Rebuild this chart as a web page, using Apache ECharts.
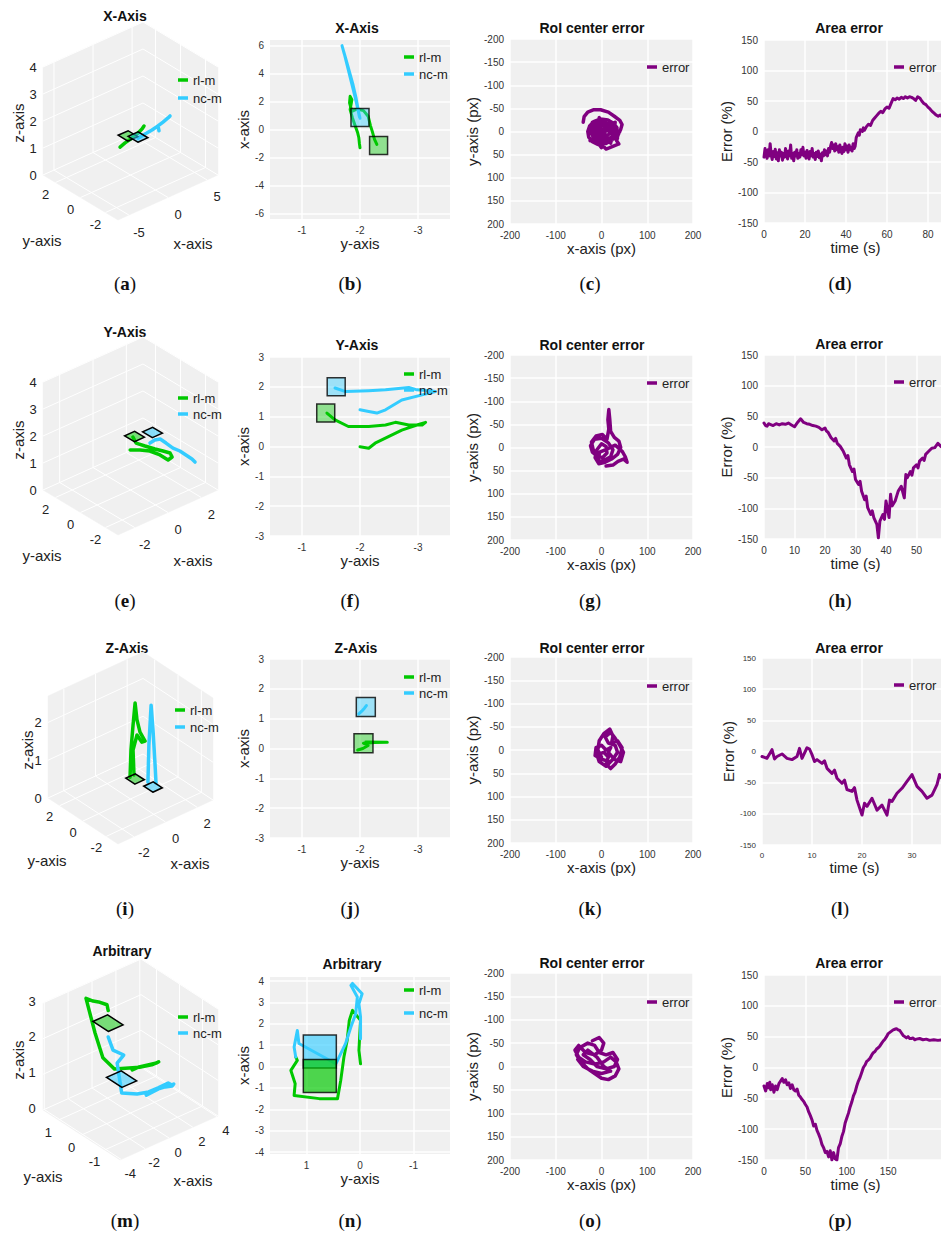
<!DOCTYPE html>
<html>
<head>
<meta charset="utf-8">
<title>Trajectories and tracking errors</title>
<script src="https://cdn.jsdelivr.net/npm/echarts@6.0.0/dist/echarts.min.js"></script>
<style>
html,body{margin:0;padding:0;background:#ffffff;}
#chart{width:941px;height:1234px;}
</style>
</head>
<body>
<div id="chart"></div>
<script>
// ================= DATA =================
// ---- Row 1 : X-Axis ----
const a_rl_x=[-1.34,-0.70,0.06,0.83,1.47,1.73];
const a_rl_y=[0,0,0,0,0,0];
const a_rl_z=[1.21,1.28,1.33,1.41,1.51,1.59];
const a_nc_x=[0.96,1.86,2.75,3.52,3.65,3.52,4.16,4.80,5.06];
const a_nc_y=[0,0,0,0,0,0,0,0,0];
const a_nc_z=[1.24,1.28,1.31,1.36,1.16,1.36,1.42,1.49,1.53];
const a_sq_rl=[-0.32,0,1.49];
const a_sq_nc=[0.96,0,1.28];
const a_xt=[-5,0,5], a_yt=[-2,0,2], a_zt=[0,1,2,3,4];

const b_rl_y=[-2.29,-2.25,-2.21,-2.18,-2.14,-2.06,-1.95,-1.86,-1.82,-1.83,-1.86,-1.83,-1.87,-1.92,-1.96,-1.98,-1.99,-2.00];
const b_rl_x=[-1.07,-0.71,-0.12,0.28,0.95,1.35,1.47,1.30,1.90,2.37,2.13,1.42,0.83,0.24,-0.24,-0.59,-1.00,-1.30];
const b_nc_y=[-2.00,-1.97,-1.93,-1.88,-1.82,-1.76,-1.71,-1.69,-1.73,-1.79,-1.85,-1.91,-1.96,-1.99];
const b_nc_x=[0.80,1.40,2.30,3.20,4.10,5.00,5.70,6.00,5.40,4.40,3.40,2.40,1.50,0.90];
const b_sq_rl=[-2.32,-1.14], b_sq_nc=[-2.00,0.86];
const b_xt=[-1,-2,-3], b_yt=[-6,-4,-2,0,2,4,6];

const c_err=[[-40,-20],[-38,-32],[-30,-42],[-18,-47],[-2,-47],[15,-42],[28,-33],[40,-24],[45,-15],[42,-5],[36,8],[33,20],[38,27],[30,30],[18,35],[10,38],[5,33],[-8,28],[-20,22],[-28,12],[-30,0],[-26,-12],[-16,-22],[-2,-27],[14,-25],[26,-18],[34,-8],[32,6],[24,18],[10,26],[-4,24],[-16,16],[-22,4],[-20,-8],[-10,-18],[4,-20],[18,-15],[26,-4],[24,10],[14,18],[0,20],[-12,12],[-15,0],[-10,-10],[2,-13],[14,-8],[18,4],[10,12],[-2,12],[-8,2],[-4,-6],[6,-4],[8,6],[-20,-20],[20,25],[30,-20],[-25,20],[35,15],[-5,-30],[0,35],[-28,-5],[40,0]];

const d_err=[[0,-42],[0.5,-28],[1,-36],[1.5,-44],[2,-30],[2.5,-40],[3,-20],[3.5,-38],[4,-46],[4.5,-33],[5,-41],[5.5,-29],[6,-45],[6.5,-35],[7,-48],[7.5,-30],[8,-40],[8.5,-34],[9,-47],[9.5,-36],[10,-42],[10.5,-28],[11,-39],[11.5,-45],[12,-32],[12.5,-40],[13,-22],[13.5,-44],[14,-36],[14.5,-48],[15,-34],[15.5,-40],[16,-30],[16.5,-44],[17,-36],[17.5,-42],[18,-30],[18.5,-38],[19,-26],[19.5,-40],[20,-34],[20.5,-44],[21,-31],[21.5,-38],[22,-45],[22.5,-33],[23,-40],[23.5,-28],[24,-42],[24.5,-36],[25,-46],[25.5,-34],[26,-41],[26.5,-32],[27,-43],[27.5,-37],[28,-48],[28.5,-35],[29,-40],[29.5,-30],[30,-38],[30.5,-32],[31,-40],[31.5,-28],[32,-34],[32.5,-24],[33,-18],[33.5,-28],[34,-22],[34.5,-32],[35,-20],[35.5,-30],[36,-25],[36.5,-34],[37,-22],[37.5,-30],[38,-36],[38.5,-26],[39,-33],[39.5,-20],[40,-30],[40.5,-24],[41,-34],[41.5,-22],[42,-30],[42.5,-26],[43,-32],[43.5,-20],[44,-28],[44.5,-24],[45,-10],[46,-2],[46.5,-6],[47,3],[48,0],[48.5,6],[49,2],[50,8],[51,12],[52,10],[53,18],[54,22],[55,26],[56,30],[57,33],[58,31],[59,37],[60,40],[61,38],[62,46],[63,54],[64,52],[65,55],[66,53],[67,56],[68,54],[69,57],[70,55],[71,57],[72,56],[73,54],[74,51],[75,57],[76,55],[77,50],[78,46],[79,44],[80,40],[81,37],[82,33],[83,30],[84,27],[85,25],[86,27],[87,24],[88,26],[89,23],[90,24]];

// ---- Row 2 : Y-Axis ----
const e_rl_x=[1.57,1.33,1.47,1.64,1.80,1.93,1.77,1.46,1.47,1.35,1.07,0.73];
const e_rl_y=[1.90,1.33,0.80,0.23,-0.20,-0.59,-0.97,-1.06,-0.40,0.25,0.67,1.00];
const e_rl_z=[1,1,1,1,1,1,1,1,1,1,1,1];
const e_nc_x=[1.50,1.84,2.08,2.05,2.00,2.07,2.05,2.03,1.96];
const e_nc_y=[0.44,0.51,0.40,-0.11,-0.73,-1.19,-1.70,-2.21,-2.55];
const e_nc_z=[1.2,1.2,1.2,1.2,1.2,1.2,1.2,1.2,1.2];
const e_sq_rl=[1.65,1.88,1.0], e_sq_nc=[2.19,1.16,1.2];
const e_xt=[-2,0,2], e_yt=[-2,0,2], e_zt=[0,1,2,3,4];

const f_rl_y=[-1.43,-1.57,-1.80,-2.15,-2.44,-2.61,-2.84,-3.07,-3.13,-2.98,-2.72,-2.49,-2.26,-2.15,-2.00];
const f_rl_x=[1.12,0.89,0.67,0.67,0.72,0.81,0.72,0.72,0.81,0.72,0.55,0.33,0.11,-0.06,-0.01];
const f_nc_y=[-1.57,-1.75,-2.15,-2.44,-2.84,-2.98,-3.15,-3.30,-3.07,-2.72,-2.44,-2.29,-2.15,-2.00];
const f_nc_x=[1.96,1.84,1.87,1.90,1.98,1.90,1.88,1.84,1.73,1.56,1.23,1.12,1.17,1.23];
const f_sq_rl=[-1.41,1.12], f_sq_nc=[-1.59,2.00];
const f_xt=[-1,-2,-3], f_yt=[-3,-2,-1,0,1,2,3];

const g_err=[[-8,20],[-18,5],[-22,-12],[-12,-25],[2,-28],[12,-18],[16,-40],[14,-60],[16,-82],[18,-62],[20,-35],[28,-22],[38,-14],[42,0],[35,15],[22,25],[8,32],[-6,35],[-14,22],[-10,5],[0,-8],[10,-2],[12,12],[2,22],[-10,18],[-20,10],[-24,-4],[-15,-18],[0,-20],[15,-10],[25,5],[20,20],[5,28],[-8,30],[-4,10],[8,5],[30,-5],[45,8],[52,20],[56,32],[48,25],[36,30],[25,38],[10,40]];

const h_err=[[0,39],[0.5,35],[1,34],[1.5,38],[2,37],[3,35],[4,38],[5,36],[6,38],[7,37],[8,39],[9,36],[10,33],[11,40],[12,46],[13,40],[14,38],[15,37],[16,35],[17,34],[18,32],[19,28],[20,31],[20.5,26],[21,24],[22,15],[23,10],[23.5,14],[24,6],[25,1],[25.5,-3],[26,-7],[27,-18],[27.5,-14],[28,-29],[29,-40],[29.5,-36],[30,-53],[31,-61],[31.5,-56],[32,-72],[33,-86],[33.5,-80],[34,-99],[35,-110],[35.5,-104],[36,-115],[37,-126],[37.5,-148],[38,-121],[39,-110],[39.5,-118],[40,-88],[41,-115],[41.5,-77],[42,-96],[43,-88],[44,-72],[45,-64],[46,-83],[46.5,-45],[47,-50],[48,-40],[48.5,-46],[49,-34],[50,-29],[50.5,-34],[51,-23],[52,-18],[52.5,-22],[53,-12],[54,-7],[55,-2],[56,-1],[57,6],[58,1],[59,-2],[60,-5]];

// ---- Row 3 : Z-Axis ----
const i_rl_x=[0.98,1.04,1.17,1.30,1.42,1.61,1.93,1.73,1.42,1.17,1.23];
const i_rl_y=[1.37,1.37,1.37,1.37,1.37,1.37,1.37,1.37,1.37,1.37,1.37];
const i_rl_z=[0.11,0.82,1.45,2.01,1.54,1.18,0.88,0.89,1.14,0.79,0.12];
const i_nc_x=[1.19,1.25,1.39,1.51,1.64,1.70];
const i_nc_y=[0.12,0.12,0.12,0.12,0.12,0.12];
const i_nc_z=[0.19,1.16,2.19,1.51,0.56,0.07];
const i_sq_rl=[1.30,1.37,0], i_sq_nc=[1.51,0.12,0];
const i_xt=[-2,0,2], i_yt=[-2,0,2], i_zt=[0,1,2];

const j_rl_y=[-1.96,-2.05,-2.14,-2.06,-2.25,-2.47,-2.10];
const j_rl_x=[-0.05,0.00,0.10,0.18,0.20,0.21,0.22];
const j_nc_y=[-1.98,-2.03,-2.08,-2.11];
const j_nc_x=[1.16,1.25,1.36,1.44];
const j_sq_rl=[-2.06,0.18], j_sq_nc=[-2.10,1.39];
const j_xt=[-1,-2,-3], j_yt=[-3,-2,-1,0,1,2,3];

const k_err=[[0,15],[-8,0],[-5,-20],[5,-35],[18,-45],[25,-30],[22,-15],[35,-20],[45,-5],[40,15],[30,30],[20,40],[10,30],[15,15],[5,5],[-10,10],[-5,25],[10,35],[25,20],[35,5],[30,-10],[15,-15],[8,-28],[20,-38],[30,-25],[40,-10],[48,5],[42,25],[28,20],[15,5],[20,-5],[10,0],[0,-10],[-12,-5],[-14,12],[0,20],[18,25]];

const l_err=[[0,-8],[1,-11],[2,3],[2.5,-12],[3,-8],[4,-4],[5,-11],[6,-13],[7,-8],[7.5,5],[8,-11],[9,6],[9.5,4],[10,-5],[10.5,-16],[11,-13],[12,-19],[12.5,-15],[13,-27],[14,-35],[14.5,-30],[15,-43],[16,-51],[16.5,-46],[17,-61],[18,-64],[18.5,-58],[19,-78],[20,-102],[20.5,-83],[21,-88],[22,-75],[23,-94],[24,-86],[25,-102],[25.5,-78],[26,-80],[27,-67],[28,-59],[29,-48],[30,-37],[31,-56],[32,-64],[33,-75],[34,-70],[35,-53],[35.5,-37],[36,-43],[37,-40]];

// ---- Row 4 : Arbitrary (top view shares x,y with the 3D view) ----
const n_rl_y=[1.20,1.17,1.29,1.21,1.23,0.76,0.42,0.36,0.30,0.24,0.20,0.14,-0.01,0.02,-0.01];
const n_rl_x=[0.45,0.29,-0.18,-0.80,-1.35,-1.50,-1.50,-0.65,0.45,1.22,2.16,2.63,2.16,0.76,0.13];
const m_rl_z=[2.30,2.50,2.60,2.75,2.90,2.15,1.60,1.18,1.07,1.00,0.94,0.98,1.08,1.17,1.19];
const n_nc_y=[1.20,1.23,1.17,1.14,0.45,0.27,0.17,0.08,0.05,0.17,0.14,-0.04,0.02,-0.01,-0.01];
const n_nc_x=[0.45,0.91,1.69,1.08,0.13,1.07,1.85,2.47,3.25,3.80,3.89,3.41,2.94,2.32,1.30];
const m_nc_z=[1.56,1.11,0.88,0.76,0.35,0.26,0.24,0.30,0.33,0.14,0.17,0.26,0.28,0.33,0.31];
const n_sq_rl=[0.75,-0.44], n_sq_nc=[0.75,0.70];
const m_sq_rl_z=2.27, m_sq_nc_z=0.53;
const m_xt=[-4,-2,0,2,4], m_yt=[-1,0,1], m_zt=[0,1,2,3];
const n_xt=[1,0,-1], n_yt=[-4,-3,-2,-1,0,1,2,3,4];

const o_err=[[-20,-55],[-5,-62],[5,-50],[0,-35],[-15,-25],[-35,-30],[-50,-45],[-58,-35],[-50,-20],[-35,-10],[-15,-5],[5,-10],[20,-20],[32,-10],[38,5],[30,20],[15,28],[0,25],[-15,15],[-30,5],[-45,-10],[-55,-25],[-48,-40],[-30,-50],[-15,-45],[-5,-30],[10,-25],[25,-30],[35,-15],[28,0],[10,5],[-10,0],[-25,-15],[-40,-25],[-30,-35],[-10,-20],[5,0],[20,10],[0,15],[-20,10],[-40,0],[-52,-15]];

const p_err=[[0,-30],[2,-38],[4,-26],[5,-33],[7,-24],[8,-36],[10,-28],[12,-40],[14,-30],[16,-36],[18,-26],[20,-22],[22,-18],[24,-24],[26,-20],[28,-28],[30,-25],[32,-34],[34,-28],[36,-36],[38,-38],[40,-35],[42,-45],[44,-48],[46,-52],[48,-55],[50,-60],[52,-64],[54,-72],[56,-78],[58,-85],[60,-95],[62,-92],[64,-102],[66,-108],[68,-115],[70,-125],[72,-130],[74,-138],[76,-136],[78,-145],[80,-135],[82,-150],[84,-138],[86,-148],[88,-150],[90,-130],[92,-124],[94,-112],[96,-104],[98,-90],[100,-82],[102,-74],[104,-64],[106,-56],[108,-46],[110,-40],[112,-30],[114,-22],[116,-16],[118,-8],[120,0],[122,4],[124,10],[126,12],[128,15],[130,20],[132,24],[134,26],[136,30],[138,32],[140,35],[142,39],[144,43],[146,46],[148,50],[150,55],[152,57],[154,59],[156,61],[158,62],[160,63],[162,61],[164,60],[166,56],[168,52],[170,50],[172,48],[174,50],[176,47],[178,47],[180,48],[182,45],[184,46],[188,47],[192,45],[196,46],[200,44],[205,45],[210,44],[215,45]];

// tick label list for the last time axis
const p_xt=[0,50,100,150];

// ================= STYLE / LAYOUT =================
const FONT="'Liberation Sans', Arial, Helvetica, sans-serif";
const SERIF="'Liberation Serif', 'Times New Roman', serif";
const C_RL='#00c800', C_NC='#33ccff', C_ERR='#800080';
const F_RL='rgba(0,200,0,0.5)', F_NC='rgba(51,204,255,0.55)';
const F_RL2='rgba(0,200,0,0.85)', F_NC2='rgba(51,204,255,0.8)';

const L_a={top:0,B:[118,220],U:[100,-45],V:[-75,-45],H:108,xr:[-6.4,6.4],yr:[-3,3],zr:[0,4],sq:[0.05,0.065],xo:[10,17],yo:[-10,12],zo:[-10,0]};
const L_e={top:315,B:[118,220],U:[100,-45],V:[-75,-45],H:108,xr:[-3,3],yr:[-3,3],zr:[0,4],sq:[0.05,0.065],xo:[10,17],yo:[-10,12],zo:[-10,0]};
const L_i={top:635,B:[118,209],U:[95,-44],V:[-70,-46],H:102,xr:[-3,3],yr:[-3,3],zr:[0,2.7],sq:[0.05,0.065],xo:[10,16],yo:[-10,11],zo:[-10,0]};
const L_m={top:950,B:[120,210],U:[98,-44],V:[-77,-50],H:107,xr:[-4.1,4.1],yr:[-1.67,1.67],zr:[0,3],sq:[0.075,0.1],xo:[9,14],yo:[-10,12],zo:[-11,-2]};

const grids=[], xAxes=[], yAxes=[], series=[], legends=[], graphics=[];

function nrm(r,val){return (val-r[0])/(r[1]-r[0]);}
function projN(L,u,v,w){return [L.B[0]+u*L.U[0]+v*L.V[0], L.B[1]+u*L.U[1]+v*L.V[1]-w*L.H];}
function proj(L,x,y,z){return projN(L,nrm(L.xr,x),nrm(L.yr,y),nrm(L.zr,z));}

function lineSeries(name,color,gi,data,width){
  return {type:'line',name:name,xAxisIndex:gi,yAxisIndex:gi,data:data,showSymbol:false,symbol:'none',
    lineStyle:{color:color,width:width||3,join:'round',cap:'round'},itemStyle:{color:color},z:3,silent:true,emphasis:{disabled:true}};
}

function boxRender(L,t){
  return function(params,api){
    const P=(u,v,w)=>api.coord(projN(L,u,v,w));
    const Q=(u,v,w,o)=>{const p=projN(L,u,v,w);return api.coord([p[0]+o[0],p[1]+o[1]]);};
    const ch=[];
    const wall={fill:'#f0f0f0',stroke:'#f0f0f0',lineWidth:0.5};
    ch.push({type:'polygon',shape:{points:[P(0,0,0),P(1,0,0),P(1,1,0),P(0,1,0)]},style:wall});
    ch.push({type:'polygon',shape:{points:[P(0,1,0),P(1,1,0),P(1,1,1),P(0,1,1)]},style:wall});
    ch.push({type:'polygon',shape:{points:[P(1,0,0),P(1,1,0),P(1,1,1),P(1,0,1)]},style:wall});
    const seg=(a,b)=>ch.push({type:'line',shape:{x1:a[0],y1:a[1],x2:b[0],y2:b[1]},style:{stroke:'#ffffff',lineWidth:1}});
    const txt=(p,s)=>ch.push({type:'text',x:p[0],y:p[1],style:{text:String(s),fontSize:13,fontFamily:FONT,fill:'#222',align:'center',verticalAlign:'middle'}});
    t.x.forEach(x=>{const u=nrm(L.xr,x);seg(P(u,0,0),P(u,1,0));seg(P(u,1,0),P(u,1,1));txt(Q(u,0,0,L.xo),x);});
    t.y.forEach(y=>{const v=nrm(L.yr,y);seg(P(0,v,0),P(1,v,0));seg(P(1,v,0),P(1,v,1));txt(Q(0,v,0,L.yo),y);});
    t.z.forEach(z=>{const w=nrm(L.zr,z);seg(P(0,1,w),P(1,1,w));seg(P(1,0,w),P(1,1,w));txt(Q(0,1,w,L.zo),z);});
    return {type:'group',children:ch};
  };
}
function sq3Render(L,items){
  return function(params,api){
    const it=items[params.dataIndex];
    const u=nrm(L.xr,it.p[0]), v=nrm(L.yr,it.p[1]), w=nrm(L.zr,it.p[2]);
    const du=L.sq[0], dv=L.sq[1];
    const pts=[[u-du,v-dv],[u+du,v-dv],[u+du,v+dv],[u-du,v+dv]].map(q=>api.coord(projN(L,q[0],q[1],w)));
    return {type:'polygon',shape:{points:pts},style:{fill:it.fill,stroke:'#000',lineWidth:1.5}};
  };
}
function add3D(L,t,rl,nc,sqs){
  const gi=grids.length;
  grids.push({left:0,top:L.top,width:235,height:280,show:false,containLabel:false,outerBoundsMode:'none'});
  xAxes.push({type:'value',gridIndex:gi,min:0,max:235,show:false});
  yAxes.push({type:'value',gridIndex:gi,min:0,max:280,inverse:true,show:false});
  series.push({type:'custom',name:'frame',xAxisIndex:gi,yAxisIndex:gi,data:[[0,0]],silent:true,clip:false,z:1,renderItem:boxRender(L,t)});
  const pr=s=>s.x.map((x,i)=>proj(L,x,s.y[i],s.z[i]));
  const s1=lineSeries('rl-m',C_RL,gi,pr(rl),3.5); s1.clip=false; series.push(s1);
  const s2=lineSeries('nc-m',C_NC,gi,pr(nc),3.5); s2.clip=false; series.push(s2);
  series.push({type:'custom',name:'marker',xAxisIndex:gi,yAxisIndex:gi,data:sqs.map((s,i)=>[i,0]),silent:true,clip:false,z:4,renderItem:sq3Render(L,sqs)});
}
function valAxis(gi,o){
  const ax={type:'value',gridIndex:gi,min:o.min,max:o.max,inverse:!!o.inverse,
    axisLine:{show:false},axisTick:{show:false},
    axisLabel:{fontSize:o.fs||10,color:'#333',fontFamily:FONT,margin:6,showMinLabel:true,showMaxLabel:o.showMax!==false},
    splitLine:{show:true,lineStyle:{color:'#ffffff',width:1.5}},
    name:o.name,nameLocation:'middle',nameGap:o.nameGap,nameTextStyle:{fontSize:15,color:'#222',fontFamily:FONT}};
  if(o.ticks){ax.axisTick.customValues=o.ticks;ax.axisLabel.customValues=o.ticks;}
  if(o.interval){ax.interval=o.interval;}
  return ax;
}
function addGrid(r){
  grids.push({left:r[0],top:r[1],width:r[2],height:r[3],show:true,backgroundColor:'#f0f0f0',borderWidth:0,containLabel:false,outerBoundsMode:'none'});
  return grids.length-1;
}
function addTop(r,xr,yr,xt,yt,rl,nc,sqs,size){
  const gi=addGrid(r);
  xAxes.push(valAxis(gi,{min:xr[0],max:xr[1],inverse:true,ticks:xt,name:'y-axis',nameGap:17}));
  yAxes.push(valAxis(gi,{min:yr[0],max:yr[1],ticks:yt,name:'x-axis',nameGap:14}));
  series.push(lineSeries('rl-m',C_RL,gi,rl.y.map((y,i)=>[y,rl.x[i]]),3));
  series.push(lineSeries('nc-m',C_NC,gi,nc.y.map((y,i)=>[y,nc.x[i]]),3));
  series.push({type:'scatter',name:'marker',xAxisIndex:gi,yAxisIndex:gi,silent:true,z:4,symbol:'rect',symbolSize:size,
    data:sqs.map(s=>({value:s.p,itemStyle:{color:s.fill,borderColor:'#000',borderWidth:1.5}}))});
}
function addRoI(r,pts){
  const gi=addGrid(r);
  xAxes.push(valAxis(gi,{min:-200,max:200,interval:100,name:'x-axis (px)',nameGap:15}));
  yAxes.push(valAxis(gi,{min:-200,max:200,interval:50,inverse:true,name:'y-axis (px)',nameGap:22}));
  series.push(lineSeries('error',C_ERR,gi,pts,3.5));
}
function addArea(r,pts,xmax,xint,fs,gapX,xt){
  const gi=addGrid(r);
  const xo={min:0,max:xmax,name:'time (s)',nameGap:gapX,fs:fs};
  if(xt){xo.ticks=xt;xo.showMax=true;}else{xo.interval=xint;xo.showMax=false;}
  xAxes.push(valAxis(gi,xo));
  yAxes.push(valAxis(gi,{min:-150,max:150,interval:50,name:'Error (%)',nameGap:24,fs:fs}));
  series.push(lineSeries('error',C_ERR,gi,pts,3));
}
function addLegend(left,top,names,gap){
  legends.push({left:left,top:top,orient:'vertical',data:names,icon:'rect',itemWidth:10,itemHeight:3.5,itemGap:gap,padding:0,
    selectedMode:false,textStyle:{fontSize:13,fontFamily:FONT,color:'#222',lineHeight:16}});
}
function gText(x,y,text,style,rot){
  const el={type:'text',x:x,y:y,silent:true,style:Object.assign({text:text,fontFamily:FONT,fontSize:15,fill:'#222',align:'center',verticalAlign:'middle'},style||{})};
  if(rot){el.rotation=rot;}
  graphics.push(el);
}
function title(x,y,t){gText(x,y,t,{fontSize:14,fontWeight:'bold',fill:'#111'});}
function plabel(x,y,letter){gText(x,y,'({b|'+letter+'})',{fontFamily:SERIF,fontSize:19,fill:'#111',rich:{b:{fontFamily:SERIF,fontSize:19,fontWeight:'bold',fill:'#111'}}});}
function names3D(z,y,x){gText(z[0],z[1],'z-axis',{},Math.PI/2);gText(y[0],y[1],'y-axis');gText(x[0],x[1],'x-axis');}

// ---- Row 1 ----
add3D(L_a,{x:a_xt,y:a_yt,z:a_zt},{x:a_rl_x,y:a_rl_y,z:a_rl_z},{x:a_nc_x,y:a_nc_y,z:a_nc_z},[{p:a_sq_rl,fill:F_RL},{p:a_sq_nc,fill:F_NC}]);
addTop([270,40,180,179],[-3.55,-0.45],[-6.4,6.4],b_xt,b_yt,{y:b_rl_y,x:b_rl_x},{y:b_nc_y,x:b_nc_x},[{p:b_sq_nc,fill:F_NC},{p:b_sq_rl,fill:F_RL}],18);
addRoI([510,39,183,185],c_err);
addArea([764,40,183,183],d_err,89.3,20,10,15);
// ---- Row 2 ----
add3D(L_e,{x:e_xt,y:e_yt,z:e_zt},{x:e_rl_x,y:e_rl_y,z:e_rl_z},{x:e_nc_x,y:e_nc_y,z:e_nc_z},[{p:e_sq_rl,fill:F_RL},{p:e_sq_nc,fill:F_NC}]);
addTop([270,357,180,179],[-3.55,-0.45],[-3,3],f_xt,f_yt,{y:f_rl_y,x:f_rl_x},{y:f_nc_y,x:f_nc_x},[{p:f_sq_nc,fill:F_NC},{p:f_sq_rl,fill:F_RL}],18);
addRoI([510,355,183,185],g_err);
addArea([764,355,183,184],h_err,60,10,10,15);
// ---- Row 3 ----
add3D(L_i,{x:i_xt,y:i_yt,z:i_zt},{x:i_rl_x,y:i_rl_y,z:i_rl_z},{x:i_nc_x,y:i_nc_y,z:i_nc_z},[{p:i_sq_rl,fill:F_RL},{p:i_sq_nc,fill:F_NC}]);
addTop([270,659,180,179],[-3.55,-0.45],[-3,3],j_xt,j_yt,{y:j_rl_y,x:j_rl_x},{y:j_nc_y,x:j_nc_x},[{p:j_sq_nc,fill:F_NC},{p:j_sq_rl,fill:F_RL}],19);
addRoI([510,657,183,186],k_err);
addArea([762,658,185,187],l_err,37,10,8,12);
// ---- Row 4 ----
add3D(L_m,{x:m_xt,y:m_yt,z:m_zt},{x:n_rl_x,y:n_rl_y,z:m_rl_z},{x:n_nc_x,y:n_nc_y,z:m_nc_z},[{p:[n_sq_nc[1],n_sq_nc[0],m_sq_nc_z],fill:F_NC},{p:[n_sq_rl[1],n_sq_rl[0],m_sq_rl_z],fill:F_RL}]);
addTop([270,977,180,177],[-1.68,1.68],[-4.09,4.19],n_xt,n_yt,{y:n_rl_y,x:n_rl_x},{y:n_nc_y,x:n_nc_x},[{p:n_sq_nc,fill:F_NC2},{p:n_sq_rl,fill:F_RL2}],33);
addRoI([510,973,183,187],o_err);
addArea([764,975,183,185],p_err,221,50,10,12,p_xt);

// legends
addLegend(178,72,['rl-m','nc-m'],2);
addLegend(404,49,['rl-m','nc-m'],1);
addLegend(647,59,['error'],0);
addLegend(894,59,['error'],0);
addLegend(178,390,['rl-m','nc-m'],0);
addLegend(404,366,['rl-m','nc-m'],0);
addLegend(647,375,['error'],0);
addLegend(894,374,['error'],0);
addLegend(175,702,['rl-m','nc-m'],1);
addLegend(404,669,['rl-m','nc-m'],0);
addLegend(647,678,['error'],0);
addLegend(894,677,['error'],0);
addLegend(178,1009,['rl-m','nc-m'],0);
addLegend(404,982,['rl-m','nc-m'],7);
addLegend(647,994,['error'],0);
addLegend(894,994,['error'],0);

// titles
title(125,16,'X-Axis'); title(357,28,'X-Axis'); title(592,28,'RoI center error'); title(849,28,'Area error');
title(125,332,'Y-Axis'); title(357,345,'Y-Axis'); title(592,345,'RoI center error'); title(849,344,'Area error');
title(127,648,'Z-Axis'); title(356,648,'Z-Axis'); title(592,648,'RoI center error'); title(849,648,'Area error');
title(122,951,'Arbitrary'); title(352,964,'Arbitrary'); title(592,963,'RoI center error'); title(849,963,'Area error');
// 3D axis names
names3D([18,123],[42,240],[193,243]);
names3D([18,440],[42,555],[193,560]);
names3D([27,750],[47,860],[190,863]);
names3D([18,1060],[43,1176],[193,1180]);
// panel labels
const letters='abcdefghijklmnop';
const lx=[125,350,590,840], ly=[283,600,908,1220];
for(let r=0;r<4;r++){for(let c=0;c<4;c++){plabel(lx[c],ly[r],letters[r*4+c]);}}

const chart=echarts.init(document.getElementById('chart'),null,{renderer:'svg',width:941,height:1234});
chart.setOption({animation:false,grid:grids,xAxis:xAxes,yAxis:yAxes,series:series,legend:legends,graphic:{elements:graphics}});
</script>
</body>
</html>
